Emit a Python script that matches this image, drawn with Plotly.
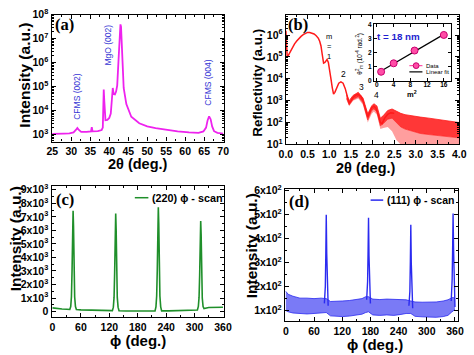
import numpy as np
import plotly.graph_objects as go

# ---------------- panel (a): XRD 2theta scan (log10 intensity) ----------------
xrd_2theta = [25.0, 26.5, 28.0, 29.5, 30.6, 31.2, 31.6, 32.0, 32.6, 34.0, 35.2, 35.4, 35.6,
              37.0, 38.0, 38.3, 38.45, 38.55, 38.7, 38.85, 39.0, 39.5, 40.0, 40.4, 40.75,
              40.93, 41.15, 41.5, 41.8, 42.1, 42.5, 42.8, 42.95, 43.1, 43.4, 43.8, 44.5,
              45.8, 47.9, 50.0, 52.2, 55.0, 58.0, 61.0, 63.5, 64.8, 65.5, 65.9, 66.3,
              66.7, 67.1, 67.6, 68.5, 70.0]
xrd_log10 = [3.04, 3.06, 3.05, 3.06, 3.10, 3.20, 3.28, 3.20, 3.12, 3.12, 3.14, 3.32, 3.14,
             3.15, 3.20, 3.30, 4.30, 4.88, 4.40, 3.80, 3.61, 3.62, 3.70, 3.88, 4.40,
             4.95, 4.70, 4.68, 4.80, 5.06, 6.28, 7.40, 7.60, 7.50, 6.28, 4.95, 4.28,
             3.75, 3.48, 3.35, 3.28, 3.20, 3.14, 3.10, 3.08, 3.14, 3.30, 3.60, 3.77,
             3.65, 3.35, 3.15, 3.08, 3.05]
a_xticks = [25, 30, 35, 40, 45, 50, 55, 60, 65, 70]
a_yexp = [3, 4, 5, 6, 7, 8]
a_peak_labels = ["CFMS (002)", "MgO (002)", "CFMS (004)"]

# ---------------- panel (b): X-ray reflectivity (log10) ----------------
refl_2theta = [0.0, 0.005, 0.015, 0.03, 0.06, 0.1, 0.15, 0.2, 0.25, 0.3, 0.35, 0.4, 0.45, 0.5,
               0.55, 0.6, 0.65, 0.7, 0.75, 0.78, 0.81, 0.84, 0.87, 0.9, 0.93, 0.95, 0.98,
               1.01, 1.04, 1.07, 1.1, 1.13, 1.17, 1.22, 1.27, 1.32, 1.37, 1.42, 1.46, 1.5,
               1.55, 1.62, 1.67, 1.73, 1.78, 1.84, 1.89, 1.93, 1.98, 2.03, 2.08, 2.13,
               2.18, 2.22, 2.28, 2.35, 2.42, 2.5]
refl_log10 = [6.2, 6.0, 5.3, 5.0, 5.08, 5.25, 5.43, 5.6, 5.73, 5.85, 5.94, 6.02, 6.08, 6.12,
              6.12, 6.1, 6.05, 5.97, 5.85, 5.72, 5.5, 5.1, 4.72, 4.75, 4.87, 4.88, 4.75,
              4.45, 4.0, 3.6, 3.3, 3.38, 3.6, 3.8, 3.86, 3.8, 3.55, 3.15, 2.88, 2.98,
              3.15, 3.26, 3.28, 3.2, 3.0, 2.6, 2.25, 2.45, 2.68, 2.75, 2.65, 2.35,
              2.0, 1.95, 2.2, 2.38, 2.45, 2.42]
# noise envelope of the reflectivity tail (log10)
refl_band_2theta = [1.40, 1.46, 1.55, 1.67, 1.78, 1.89, 1.98, 2.03, 2.10, 2.18, 2.25, 2.35,
                    2.45, 2.55, 2.65, 2.75, 2.90, 3.10, 3.30, 3.50, 3.70, 3.90, 4.00]
refl_band_upper = [3.28, 3.0, 3.24, 3.38, 3.12, 2.4, 2.76, 2.86, 2.76, 2.2, 2.32, 2.55,
                   2.62, 2.52, 2.42, 2.36, 2.3, 2.25, 2.2, 2.15, 2.1, 2.05, 2.0]
refl_band_core = [3.1, 2.8, 3.05, 3.18, 2.9, 2.12, 2.55, 2.62, 2.5, 1.85, 1.95, 2.15,
                  2.2, 2.0, 1.8, 1.7, 1.6, 1.5, 1.45, 1.4, 1.35, 1.3, 1.3]
refl_band_spikes = [3.05, 2.75, 3.0, 3.1, 2.8, 2.0, 2.4, 2.5, 2.35, 1.7, 1.75, 1.8,
                    1.6, 1.2, 1.0, 1.0, 1.0, 1.0, 1.0, 1.0, 1.0, 1.0, 1.0]
b_xticks = [0.0, 0.5, 1.0, 1.5, 2.0, 2.5, 3.0, 3.5, 4.0]
b_yexp = [1, 2, 3, 4, 5, 6]
b_order_labels = ["m<br>=<br>1", "2", "3", "4"]

# inset of (b)
inset_m2 = [1, 4, 9, 16]
inset_theta2 = [0.65, 1.25, 2.15, 3.25]
inset_xticks = [0, 4, 8, 12, 16]
inset_yticks = [0, 1, 2, 3, 4]

# ---------------- panel (c): (220) phi scan ----------------
phi_c = [0, 10, 20, 30, 36.5, 38.5, 40, 41.3, 42.4, 43.5, 44.4, 45.5, 46.8, 48.5, 50.5,
         60, 75, 90, 105, 120,
         126.5, 128.5, 130, 131.3, 132.4, 133.5, 134.4, 135.5, 136.8, 138.5, 140.5,
         155, 170, 185, 200, 210,
         216.5, 218.5, 220, 221.3, 222.4, 223.5, 224.4, 225.5, 226.8, 228.5, 230.5,
         245, 260, 275, 290, 300,
         306, 308, 309.5, 310.8, 311.9, 313, 313.9, 315, 316.3, 318, 320,
         330, 345, 360]
int_c = [275, 220, 190, 170, 160, 380, 1100, 3000, 6000, 7450, 6300, 3300, 1100, 380, 160,
         130, 110, 90, 80, 70,
         70, 330, 1050, 2900, 5800, 7240, 6100, 3200, 1050, 330, 60,
         50, 40, 30, 25, 30,
         45, 350, 1150, 3100, 6200, 7700, 6500, 3400, 1150, 350, 55,
         55, 60, 70, 80, 100,
         120, 380, 1050, 2700, 5400, 6700, 5700, 3000, 1000, 380, 230,
         300, 330, 320]
c_xticks = [0, 60, 120, 180, 240, 300, 360]
c_yticks = [0, 1000, 2000, 3000, 4000, 5000, 6000, 7000, 8000, 9000]
c_yticktext = ["0"] + ["%dx10<sup>3</sup>" % k for k in range(1, 10)]

# ---------------- panel (d): (111) phi scan ----------------
phi_d_band = [0, 5, 15, 30, 45, 60, 75, 86, 95, 105, 120, 135, 150, 162, 170, 176, 185, 200,
              215, 230, 245, 256, 266, 275, 290, 305, 320, 335, 345, 352, 356, 360]
int_d_upper = [180, 168, 160, 152, 152, 150, 152, 150, 138, 138, 140, 142, 145, 150, 158, 158,
               148, 146, 148, 148, 148, 145, 140, 136, 135, 135, 136, 140, 145, 152, 155, 150]
int_d_lower = [100, 95, 90, 88, 86, 88, 90, 92, 78, 76, 75, 77, 80, 85, 92, 95,
               82, 80, 82, 80, 84, 88, 88, 76, 74, 72, 72, 75, 80, 92, 98, 105]
phi_d_peaks = [82, 84, 85, 86, 87, 88.5, 90, None,
               172, 174, 175, 176, 177, 178.5, 180, None,
               262, 264, 265, 266, 267, 268.5, 270, None,
               352, 354, 355, 356, 357, 358.5, 360]
int_d_peaks = [130, 200, 330, 500, 340, 180, 120, None,
               145, 220, 340, 487, 330, 190, 130, None,
               120, 180, 300, 458, 300, 170, 110, None,
               140, 230, 350, 505, 360, 200, 115]
d_xticks = [0, 60, 120, 180, 240, 300, 360]
d_yticks = [100, 200, 300, 400, 500, 600]
d_yticktext = ["%dx10<sup>2</sup>" % k for k in range(1, 7)]

# ---------------- styling ----------------
W, H = 474, 355
SANS = "Liberation Sans, Arial, sans-serif"
SERIF = "Liberation Serif, Times New Roman, serif"
MAG = "#ee22ee"
RED = "#ff1a1a"
GREEN = "#1f8f2a"
BLUE = "#2a2af0"
ANN_BLUE = "#3434d4"


def fx(p):
    return p / W


def fy(p):
    return 1 - p / H


def axis(dom, rng, tickvals, ticktext, anchor, log=False, size=10.5, minor=None,
         ticklen=4):
    d = dict(domain=dom, range=rng, tickmode="array", tickvals=tickvals, ticktext=ticktext,
             showline=True, linecolor="black", linewidth=1.4, mirror="ticks",
             ticks="inside", ticklen=ticklen, tickwidth=1.2, tickcolor="black",
             showgrid=False, zeroline=False, anchor=anchor,
             tickfont=dict(family=SANS, size=size, color="black", weight="bold"))
    if log:
        d["type"] = "log"
    if minor is not None:
        d["minor"] = dict(ticks="inside", ticklen=2.2, tickwidth=1, tickcolor="black",
                          showgrid=False, dtick=minor)
    return d


fig = go.Figure()

# (a)
fig.add_trace(go.Scatter(x=xrd_2theta, y=10 ** np.array(xrd_log10), mode="lines",
                         line=dict(color=MAG, width=1.8), xaxis="x", yaxis="y"))

# (b) noise bands + line
rb = np.array
fig.add_trace(go.Scatter(x=refl_band_2theta, y=10 ** rb(refl_band_spikes), mode="lines",
                         line=dict(width=0, color=RED), xaxis="x2", yaxis="y2"))
fig.add_trace(go.Scatter(x=refl_band_2theta, y=10 ** rb(refl_band_core), mode="lines",
                         line=dict(width=0.6, color=RED), fill="tonexty",
                         fillcolor="rgba(255,40,40,0.45)", xaxis="x2", yaxis="y2"))
fig.add_trace(go.Scatter(x=refl_band_2theta, y=10 ** rb(refl_band_upper), mode="lines",
                         line=dict(width=0.8, color=RED), fill="tonexty",
                         fillcolor="rgba(255,20,20,0.85)", xaxis="x2", yaxis="y2"))
fig.add_trace(go.Scatter(x=refl_2theta, y=10 ** rb(refl_log10), mode="lines",
                         line=dict(color=RED, width=1.5), xaxis="x2", yaxis="y2"))

# inset
fit = np.polyfit(inset_m2, inset_theta2, 1)
fit_x = [inset_m2[0], inset_m2[-1]]
fit_y = [fit[0] * v + fit[1] for v in fit_x]
fig.add_trace(go.Scatter(x=fit_x, y=fit_y, mode="lines", line=dict(color="black", width=1.2),
                         xaxis="x5", yaxis="y5"))
fig.add_trace(go.Scatter(x=inset_m2, y=inset_theta2, mode="markers",
                         marker=dict(size=7, color="#ff4da6", line=dict(color="#c8006e", width=1)),
                         xaxis="x5", yaxis="y5"))

# (c)
fig.add_trace(go.Scatter(x=phi_c, y=int_c, mode="lines", line=dict(color=GREEN, width=1.6),
                         xaxis="x3", yaxis="y3"))

# (d)
fig.add_trace(go.Scatter(x=phi_d_band, y=int_d_lower, mode="lines",
                         line=dict(width=0.8, color=BLUE), xaxis="x4", yaxis="y4"))
fig.add_trace(go.Scatter(x=phi_d_band, y=int_d_upper, mode="lines",
                         line=dict(width=0.8, color=BLUE), fill="tonexty",
                         fillcolor="rgba(40,40,240,0.62)", xaxis="x4", yaxis="y4"))
fig.add_trace(go.Scatter(x=phi_d_peaks, y=int_d_peaks, mode="lines",
                         line=dict(color=BLUE, width=1.4), connectgaps=False,
                         xaxis="x4", yaxis="y4"))

log_text = lambda exps: ["10<sup>%d</sup>" % e for e in exps]

fig.update_layout(
    width=W, height=H, margin=dict(l=0, r=0, t=0, b=0),
    paper_bgcolor="white", plot_bgcolor="white", showlegend=False,
    xaxis=axis([fx(46), fx(224)], [24.8, 70.2], a_xticks, [str(v) for v in a_xticks], "y",
               minor=2.5),
    yaxis=axis([fy(139), fy(7)], [2.72, 8.0], [10 ** e for e in a_yexp], log_text(a_yexp), "x",
               log=True, minor="D1"),
    xaxis2=axis([fx(288), fx(467)], [0, 4.0], b_xticks, ["%.1f" % v for v in b_xticks], "y2",
                minor=0.25),
    yaxis2=axis([fy(142), fy(7)], [1.0, 6.93], [10 ** e for e in b_yexp], log_text(b_yexp), "x2",
                log=True, minor="D1"),
    xaxis3=axis([fx(46), fx(224)], [-2, 362], c_xticks, [str(v) for v in c_xticks], "y3",
                minor=30),
    yaxis3=axis([fy(322), fy(185)], [-420, 9300], c_yticks, c_yticktext, "x3", minor=500),
    xaxis4=axis([fx(287), fx(466)], [-2, 367], d_xticks, [str(v) for v in d_xticks], "y4",
                minor=30),
    yaxis4=axis([fy(326), fy(188)], [56, 609], d_yticks, d_yticktext, "x4", minor=50),
    xaxis5=axis([fx(379), fx(458)], [-0.7, 17.6], inset_xticks, [str(v) for v in inset_xticks],
                "y5", size=6.5, ticklen=3),
    yaxis5=axis([fy(76), fy(17)], [0, 4], inset_yticks, [str(v) for v in inset_yticks], "x5",
                size=6.5, ticklen=3),
)
fig.update_layout(xaxis5=dict(linewidth=1.0, ticklabelstandoff=-3),
                  yaxis5=dict(linewidth=1.0))

ann = []


def text(x, y, s, size, color="black", bold=True, family=SANS, angle=0, xanchor="center"):
    if bold:
        s = "<b>" + s + "</b>"
    ann.append(dict(x=fx(x), y=fy(y), xref="paper", yref="paper", text=s, showarrow=False,
                    font=dict(family=family, size=size, color=color), textangle=angle,
                    xanchor=xanchor, yanchor="middle"))


# axis titles
text(18, 70, "Intensity (a.u.)", 15.5, angle=-90)
text(135, 162.5, "2θ (deg.)", 14.5)
text(259, 78, "Reflectivity (a.u.)", 13.5, angle=-90)
text(371, 166.5, "2θ (deg.)", 14.5)
text(9, 240, "Intensity (a.u.)", 15.5, angle=-90)
text(135, 346.5, "ϕ (deg.)", 15)
text(252, 248, "Intensity (a.u.)", 15.5, angle=-90)
text(380, 350.5, "ϕ (deg.)", 15)

# panel labels
for (x, y, s) in [(59, 17, "(a)"), (301, 17, "(b)"), (60, 199, "(c)"), (302, 201, "(d)")]:
    text(x, y, s, 16.5, family=SERIF)

# (a) peak labels (rotated)
for (x, y, s) in zip([72.7, 104.3, 207.3], [92, 38, 78], a_peak_labels):
    text(x, y, s, 8.5, color=ANN_BLUE, bold=False, angle=-90)

# (b) order labels
for (x, y, s, fs) in zip([332.3, 347, 366, 382], [40.5, 69, 82, 91], b_order_labels,
                         [7.5, 8.5, 8.5, 8.5]):
    text(x, y, s, fs, bold=False)

# inset texts
text(404, 30, "t = 18 nm", 9.8, color="#1f1fd0")
text(364, 47, "θ<sup>2</sup><sub>m</sub> (10<sup>-4</sup> rad.<sup>2</sup>)", 6.3, bold=False,
     angle=-90)
text(418, 89.5, "m<sup>2</sup>", 7.5)
text(431, 60, "Data", 6, bold=False, xanchor="left")
text(431, 66.5, "Linear fit", 6, bold=False, xanchor="left")

# legends (c), (d)
text(148, 197.5, "(220) ϕ - scan", 10.8, xanchor="left")
text(390.5, 200, "(111) ϕ - scan", 10.5, xanchor="left")

shapes = [
    dict(type="line", xref="paper", yref="paper", x0=fx(132), x1=fx(146), y0=fy(197.5),
         y1=fy(197.5), line=dict(color=GREEN, width=1.5)),
    dict(type="line", xref="paper", yref="paper", x0=fx(375.5), x1=fx(388.5), y0=fy(200),
         y1=fy(200), line=dict(color=BLUE, width=1.5)),
    dict(type="line", xref="paper", yref="paper", x0=fx(415.5), x1=fx(429), y0=fy(60),
         y1=fy(60), line=dict(color="#ff4da6", width=1.2)),
    dict(type="circle", xref="paper", yref="paper", x0=fx(419.5), x1=fx(425.5), y0=fy(63),
         y1=fy(57), fillcolor="#ff4da6", line=dict(color="#c8006e", width=1)),
    dict(type="line", xref="paper", yref="paper", x0=fx(415.5), x1=fx(429), y0=fy(66.5),
         y1=fy(66.5), line=dict(color="black", width=1.2)),
]
fig.update_layout(annotations=ann, shapes=shapes)

fig.write_html("out.html", config={"displayModeBar": False},
               post_script="document.body.style.margin='0';document.body.style.overflow='hidden';")
